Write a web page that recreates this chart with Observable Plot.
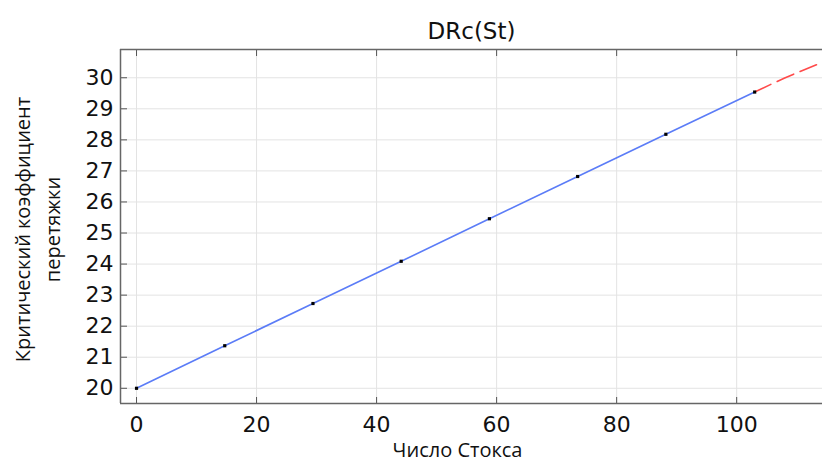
<!DOCTYPE html>
<html><head><meta charset="utf-8">
<script src="https://cdn.jsdelivr.net/npm/d3@7"></script>
<script src="https://cdn.jsdelivr.net/npm/@observablehq/plot@0.6"></script>
<style>body{margin:0;background:#fff}</style>
</head><body><div id="chart"></div>
<script>
const title = "DRc(St)";
const xLabel = "Число Стокса";
const yLabel1 = "Критический коэффициент";
const yLabel2 = "перетяжки";
const st = [0, 14.7, 29.4, 44.1, 58.8, 73.5, 88.2, 103];
const drc = [20, 21.37, 22.73, 24.09, 25.46, 26.82, 28.18, 29.54];
const extSt = [103, 108, 113.3];
const extDrc = [29.54, 29.99, 30.42];
const xTicks = [0, 20, 40, 60, 80, 100];
const yTicks = [20, 21, 22, 23, 24, 25, 26, 27, 28, 29, 30];

const pts = st.map((s, i) => ({s, d: drc[i]}));
const ext = extSt.map((s, i) => ({s, d: extDrc[i]}));
const font = "DejaVu Sans";
const lab = "Open Sans";

const chart = Plot.plot({
  width: 822, height: 462,
  marginLeft: 120, marginRight: 0, marginTop: 49, marginBottom: 59,
  style: {fontFamily: font, background: "#fff"},
  x: {domain: [-2.67, 114.3]},
  y: {domain: [19.51, 30.91]},
  marks: [
    Plot.gridX(xTicks, {stroke: "#e3e3e3", strokeOpacity: 1}),
    Plot.gridY(yTicks, {stroke: "#e3e3e3", strokeOpacity: 1}),
    Plot.axisX(xTicks, {anchor: "bottom", tickSize: -6, tickPadding: 19, fontSize: 22, label: null, stroke: "#555", fill: "#111"}),
    Plot.axisX(xTicks, {anchor: "top", tickSize: -6, tickFormat: () => "", label: null, stroke: "#555"}),
    Plot.axisY(yTicks, {anchor: "left", tickSize: -7, tickPadding: 14, fontSize: 22, label: null, stroke: "#555", fill: "#111"}),
    Plot.ruleX([0], {x: () => -2.67, stroke: "#666", strokeWidth: 1.5}),
    Plot.ruleY([0], {y: () => 19.51, stroke: "#666", strokeWidth: 1.5}),
    Plot.ruleY([0], {y: () => 30.91, stroke: "#666", strokeWidth: 1.5}),
    Plot.line(ext, {x: "s", y: "d", stroke: "#ff4a4a", strokeWidth: 1.6, strokeDasharray: "18,7", curve: "natural"}),
    Plot.line(pts, {x: "s", y: "d", stroke: "#5b7cf7", strokeWidth: 1.6}),
    Plot.dot(pts, {x: "s", y: "d", symbol: "square", r: 1.8, fill: "#000"}),
    Plot.text([title], {frameAnchor: "top", dy: -27, fontSize: 23, fill: "#111", fontFamily: font}),
    Plot.text([xLabel], {frameAnchor: "bottom", textAnchor: "middle", dy: 53, dx: -14, fontSize: 20, fill: "#111", fontFamily: lab}),
    Plot.text([yLabel1], {frameAnchor: "left", textAnchor: "middle", dx: -97, dy: 3, rotate: -90, fontSize: 20, fill: "#111", fontFamily: lab}),
    Plot.text([yLabel2], {frameAnchor: "left", textAnchor: "middle", dx: -67, dy: 3, rotate: -90, fontSize: 20, fill: "#111", fontFamily: lab})
  ]
});
document.getElementById("chart").appendChild(chart);
</script>
</body></html>
